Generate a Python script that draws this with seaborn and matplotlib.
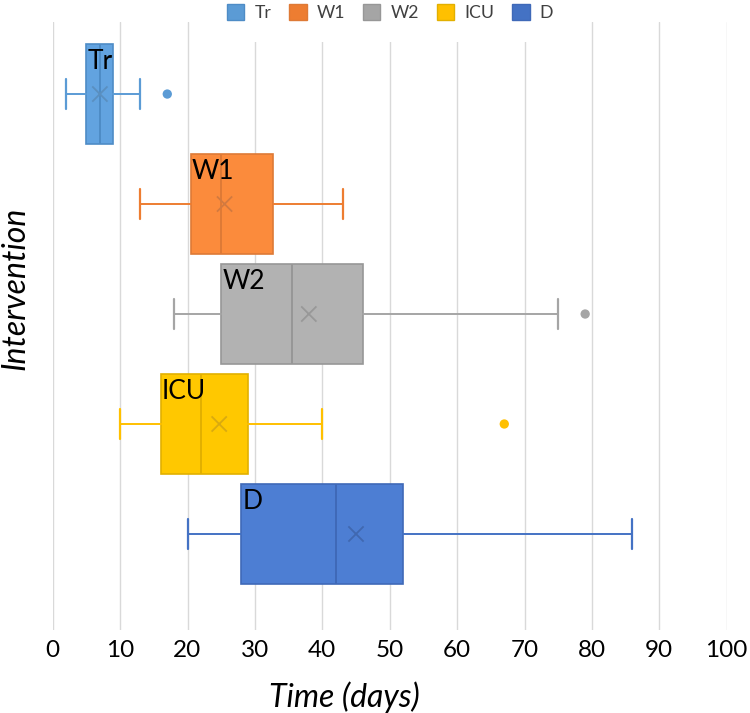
import matplotlib
matplotlib.use("Agg")
import matplotlib.pyplot as plt
import seaborn as sns
import pandas as pd
from matplotlib.patches import Patch, Rectangle

# ---- data ----
names = ["Tr", "W1", "W2", "ICU", "D"]
whislo = [2, 13, 18, 10, 20]
q1 = [5, 20.5, 25, 16, 28]
med = [7, 25, 35.5, 22, 42]
q3 = [9, 32.7, 46, 29, 52]
whishi = [13, 43, 75, 40, 86]
means = [7, 25.5, 38, 24.7, 45]
outlier_group = ["Tr", "W2", "ICU"]
outlier_value = [17, 79, 67]
xticks = [0, 10, 20, 30, 40, 50, 60, 70, 80, 90, 100]

# ---- style ----
legend_colors = ["#5B9BD5", "#ED7D31", "#A5A5A5", "#FFC000", "#4472C4"]
fill_colors = ["#62A3E0", "#FB8B3C", "#B2B2B2", "#FFC800", "#4D7ED3"]
edge_colors = ["#4E8CC6", "#DE7A36", "#979797", "#E2B000", "#3F69B8"]
mark_colors = ["#5A8FC0", "#D27A40", "#989898", "#D9AA10", "#4068B0"]

sns.set_theme(style="whitegrid")
plt.rcParams["font.family"] = ["Lato", "DejaVu Sans"]

fig = plt.figure(figsize=(7.5, 7.13), dpi=100)
W, H = 750, 713
left, right, top, bottom = 52.7, 726.7, 22, 630
ax = fig.add_axes([left / W, (H - bottom) / H, (right - left) / W, (bottom - top) / H])
ax.set_facecolor("white")

box_w = 0.91
for i, n in enumerate(names):
    stats = [dict(label=n, whislo=whislo[i], q1=q1[i], med=med[i], q3=q3[i],
                  whishi=whishi[i], mean=means[i], fliers=[])]
    ax.bxp(stats, positions=[i], widths=box_w, orientation="horizontal",
           patch_artist=True, showmeans=False, showfliers=False,
           capwidths=0.27,
           boxprops=dict(facecolor=fill_colors[i], edgecolor=edge_colors[i], linewidth=1.2),
           medianprops=dict(color=edge_colors[i], linewidth=1.4),
           whiskerprops=dict(color=legend_colors[i], linewidth=1.4),
           capprops=dict(color=legend_colors[i], linewidth=1.6),
           manage_ticks=False, zorder=2)

pos_of = {n: i for i, n in enumerate(names)}
df_mean = pd.DataFrame({"group": names, "value": means, "pos": [pos_of[n] for n in names]})
df_out = pd.DataFrame({"group": outlier_group, "value": outlier_value,
                       "pos": [pos_of[n] for n in outlier_group]})
pal_mark = dict(zip(names, mark_colors))
pal_leg = dict(zip(names, legend_colors))
sns.scatterplot(data=df_mean, x="value", y="pos", hue="group", palette=pal_mark,
                marker="x", s=120, linewidth=1.3, legend=False, ax=ax, zorder=3)
sns.scatterplot(data=df_out, x="value", y="pos", hue="group", palette=pal_leg,
                marker="o", s=45, linewidth=0, legend=False, ax=ax, zorder=3)

for i, n in enumerate(names):
    ax.text(q1[i] + 0.15, i - box_w / 2 + 0.16, n, ha="left", va="center",
            fontsize=19, color="black", zorder=4)

ax.set_xlim(0, 100)
ax.set_ylim(4.873, -0.655)
ax.set_xticks(xticks)
ax.set_xticklabels([str(t) for t in xticks])
ax.set_yticks([])
ax.tick_params(axis="x", labelsize=17.5, length=0, pad=7, colors="black")
ax.grid(axis="x", color="#D9D9D9", linewidth=1.0)
ax.grid(axis="y", visible=False)
ax.set_axisbelow(True)
for s in ax.spines.values():
    s.set_visible(False)

ax.set_xlabel("Time (days)", fontsize=23, style="italic", color="black")
ax.set_ylabel("Intervention", fontsize=23, style="italic", color="black")
ax.xaxis.set_label_coords((344 - left) / (right - left), -(697 - bottom) / (bottom - top))
ax.xaxis.label.set_va("center")
ax.yaxis.set_label_coords((15 - left) / (right - left), (bottom - 288) / (bottom - top))
ax.yaxis.label.set_va("center")

# white strip behind the legend that hides the top of the gridlines
ax.add_patch(Rectangle((218 / W, (H - 42) / H), (570 - 218) / W, 22 / H,
                       transform=fig.transFigure, facecolor="white", edgecolor="none",
                       zorder=1, clip_on=False))

handles = [Patch(facecolor=legend_colors[i], edgecolor=edge_colors[i], linewidth=1.0, label=n)
           for i, n in enumerate(names)]
fig.legend(handles=handles, loc="center", bbox_to_anchor=(390 / W, 1 - 12.7 / H),
           ncol=5, fontsize=12.7, frameon=False, handlelength=1.0, handleheight=1.0,
           handletextpad=0.57, columnspacing=1.0, borderpad=0.1, labelcolor="#404040")

fig.savefig("out.png", dpi=100)
